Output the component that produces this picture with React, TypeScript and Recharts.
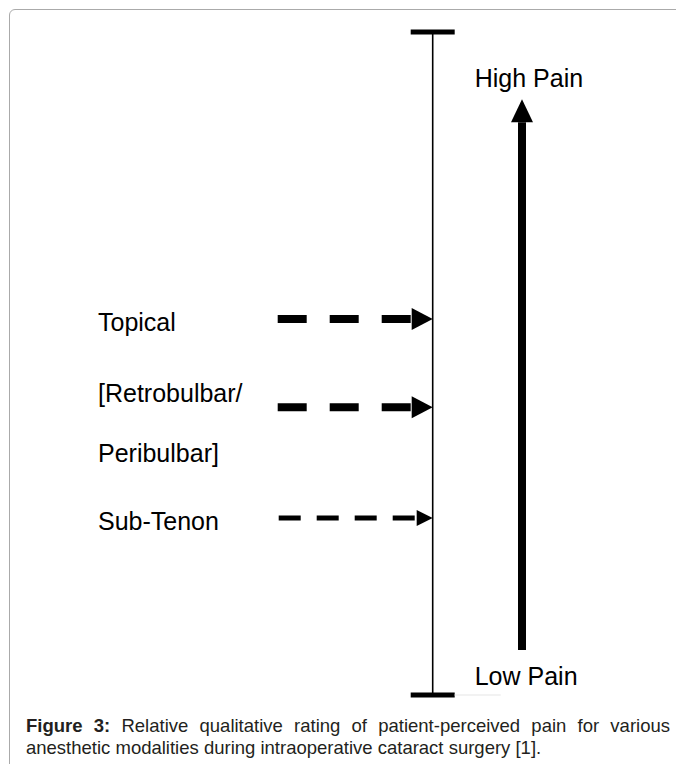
import React from "react";
import {
  ComposedChart,
  ReferenceLine,
  Scatter,
  XAxis,
  YAxis,
} from "recharts";

// pain scale: 0 = low end bar, 100 = high end bar
const modalities = ["Topical", "[Retrobulbar/|Peribulbar]", "Sub-Tenon"];
const painRating = [56.7, 43.4, 26.7];
const scaleEnds = [0, 100];
const scaleLabels = ["Low Pain", "High Pain"];
const trendArrow = [6.8, 86.4]; // shaft bottom, arrow head base

const W = 676;
const H = 764;
const SCALE_X = 432.7;
const TREND_X = 522;
const FONT = "'Liberation Sans', Arial, Helvetica, sans-serif";

// per-arrow drawing styles (Sub-Tenon is drawn thinner)
const arrowStyles = [
  { width: 8, dash: "29 23", shaftFrom: 155, headLen: 21, headH: 22, labelDy: [12] },
  { width: 8, dash: "29 23", shaftFrom: 155, headLen: 21, headH: 22, labelDy: [-5, 55] },
  { width: 5, dash: "22 16", shaftFrom: 154, headLen: 16, headH: 16, labelDy: [12] },
];

function ModalityArrow(props: any) {
  const { cx, cy, payload } = props;
  const s = arrowStyles[payload.i];
  const lines = payload.name.split("|");
  const headX = cx - s.headLen;
  return (
    <g>
      <line
        x1={cx - s.shaftFrom}
        x2={headX}
        y1={cy}
        y2={cy}
        stroke="#000"
        strokeWidth={s.width}
        strokeDasharray={s.dash}
      />
      <polygon
        points={`${headX},${cy - s.headH / 2} ${cx},${cy} ${headX},${cy + s.headH / 2}`}
        fill="#000"
      />
      {lines.map((t: string, k: number) => (
        <text
          key={t}
          x={98}
          y={cy + s.labelDy[k]}
          fontFamily={FONT}
          fontSize={25}
          fill="#000"
        >
          {t}
        </text>
      ))}
    </g>
  );
}

function ScaleLabel(props: any) {
  const { cx, cy, payload } = props;
  const dy = payload.y === scaleEnds[1] ? 55 : -10;
  return (
    <text x={cx + 42} y={cy + dy} fontFamily={FONT} fontSize={25} fill="#000">
      {payload.label}
    </text>
  );
}

function ArrowHead(props: any) {
  const { cx, cy } = props;
  return (
    <polygon
      points={`${cx - 11},${cy} ${cx},${cy - 23} ${cx + 11},${cy}`}
      fill="#000"
    />
  );
}

export default function App() {
  const modalityData = modalities.map((name, i) => ({
    x: SCALE_X,
    y: painRating[i],
    name,
    i,
  }));
  const endData = scaleEnds.map((y, i) => ({ x: SCALE_X, y, label: scaleLabels[i] }));
  const headData = [{ x: TREND_X, y: trendArrow[1] }];

  return (
    <div
      style={{
        position: "fixed",
        left: 0,
        top: 0,
        width: W,
        height: H,
        overflow: "hidden",
        background: "#fff",
        fontFamily: FONT,
      }}
    >
      <div
        style={{
          position: "absolute",
          left: 9,
          top: 9,
          width: 720,
          height: 820,
          border: "1.5px solid #aaa",
          borderRadius: 6,
        }}
      />
      <div style={{ position: "absolute", left: 0, top: 0 }}>
        <ComposedChart
          width={W}
          height={H}
          margin={{ top: 32, right: 0, bottom: H - 695, left: 0 }}
        >
          <XAxis type="number" dataKey="x" domain={[0, W]} hide />
          <YAxis type="number" dataKey="y" domain={[0, 100]} hide />
          <ReferenceLine x={SCALE_X} stroke="#000" strokeWidth={1.6} />
          {scaleEnds.map((v) => (
            <ReferenceLine
              key={v}
              segment={[
                { x: SCALE_X - 22, y: v },
                { x: SCALE_X + 22, y: v },
              ]}
              stroke="#000"
              strokeWidth={5}
            />
          ))}
          <ReferenceLine
            segment={[
              { x: SCALE_X + 22, y: scaleEnds[0] },
              { x: SCALE_X + 68, y: scaleEnds[0] },
            ]}
            stroke="#eeeeee"
            strokeWidth={1.5}
          />
          <ReferenceLine
            segment={[
              { x: TREND_X, y: trendArrow[0] },
              { x: TREND_X, y: trendArrow[1] },
            ]}
            stroke="#000"
            strokeWidth={8}
          />
          <Scatter
            data={headData}
            shape={(p: any) => <ArrowHead {...p} />}
            isAnimationActive={false}
          />
          <Scatter
            data={modalityData}
            shape={(p: any) => <ModalityArrow {...p} />}
            isAnimationActive={false}
          />
          <Scatter
            data={endData}
            shape={(p: any) => <ScaleLabel {...p} />}
            isAnimationActive={false}
          />
        </ComposedChart>
      </div>
      <div
        style={{
          position: "absolute",
          left: 26,
          top: 715,
          width: 644,
          fontSize: 18.5,
          lineHeight: "22px",
          color: "#231f20",
        }}
      >
        <div style={{ textAlign: "justify", textAlignLast: "justify" }}>
          <b>Figure 3:</b> Relative qualitative rating of patient-perceived pain for various
        </div>
        <div>anesthetic modalities during intraoperative cataract surgery [1].</div>
      </div>
    </div>
  );
}
